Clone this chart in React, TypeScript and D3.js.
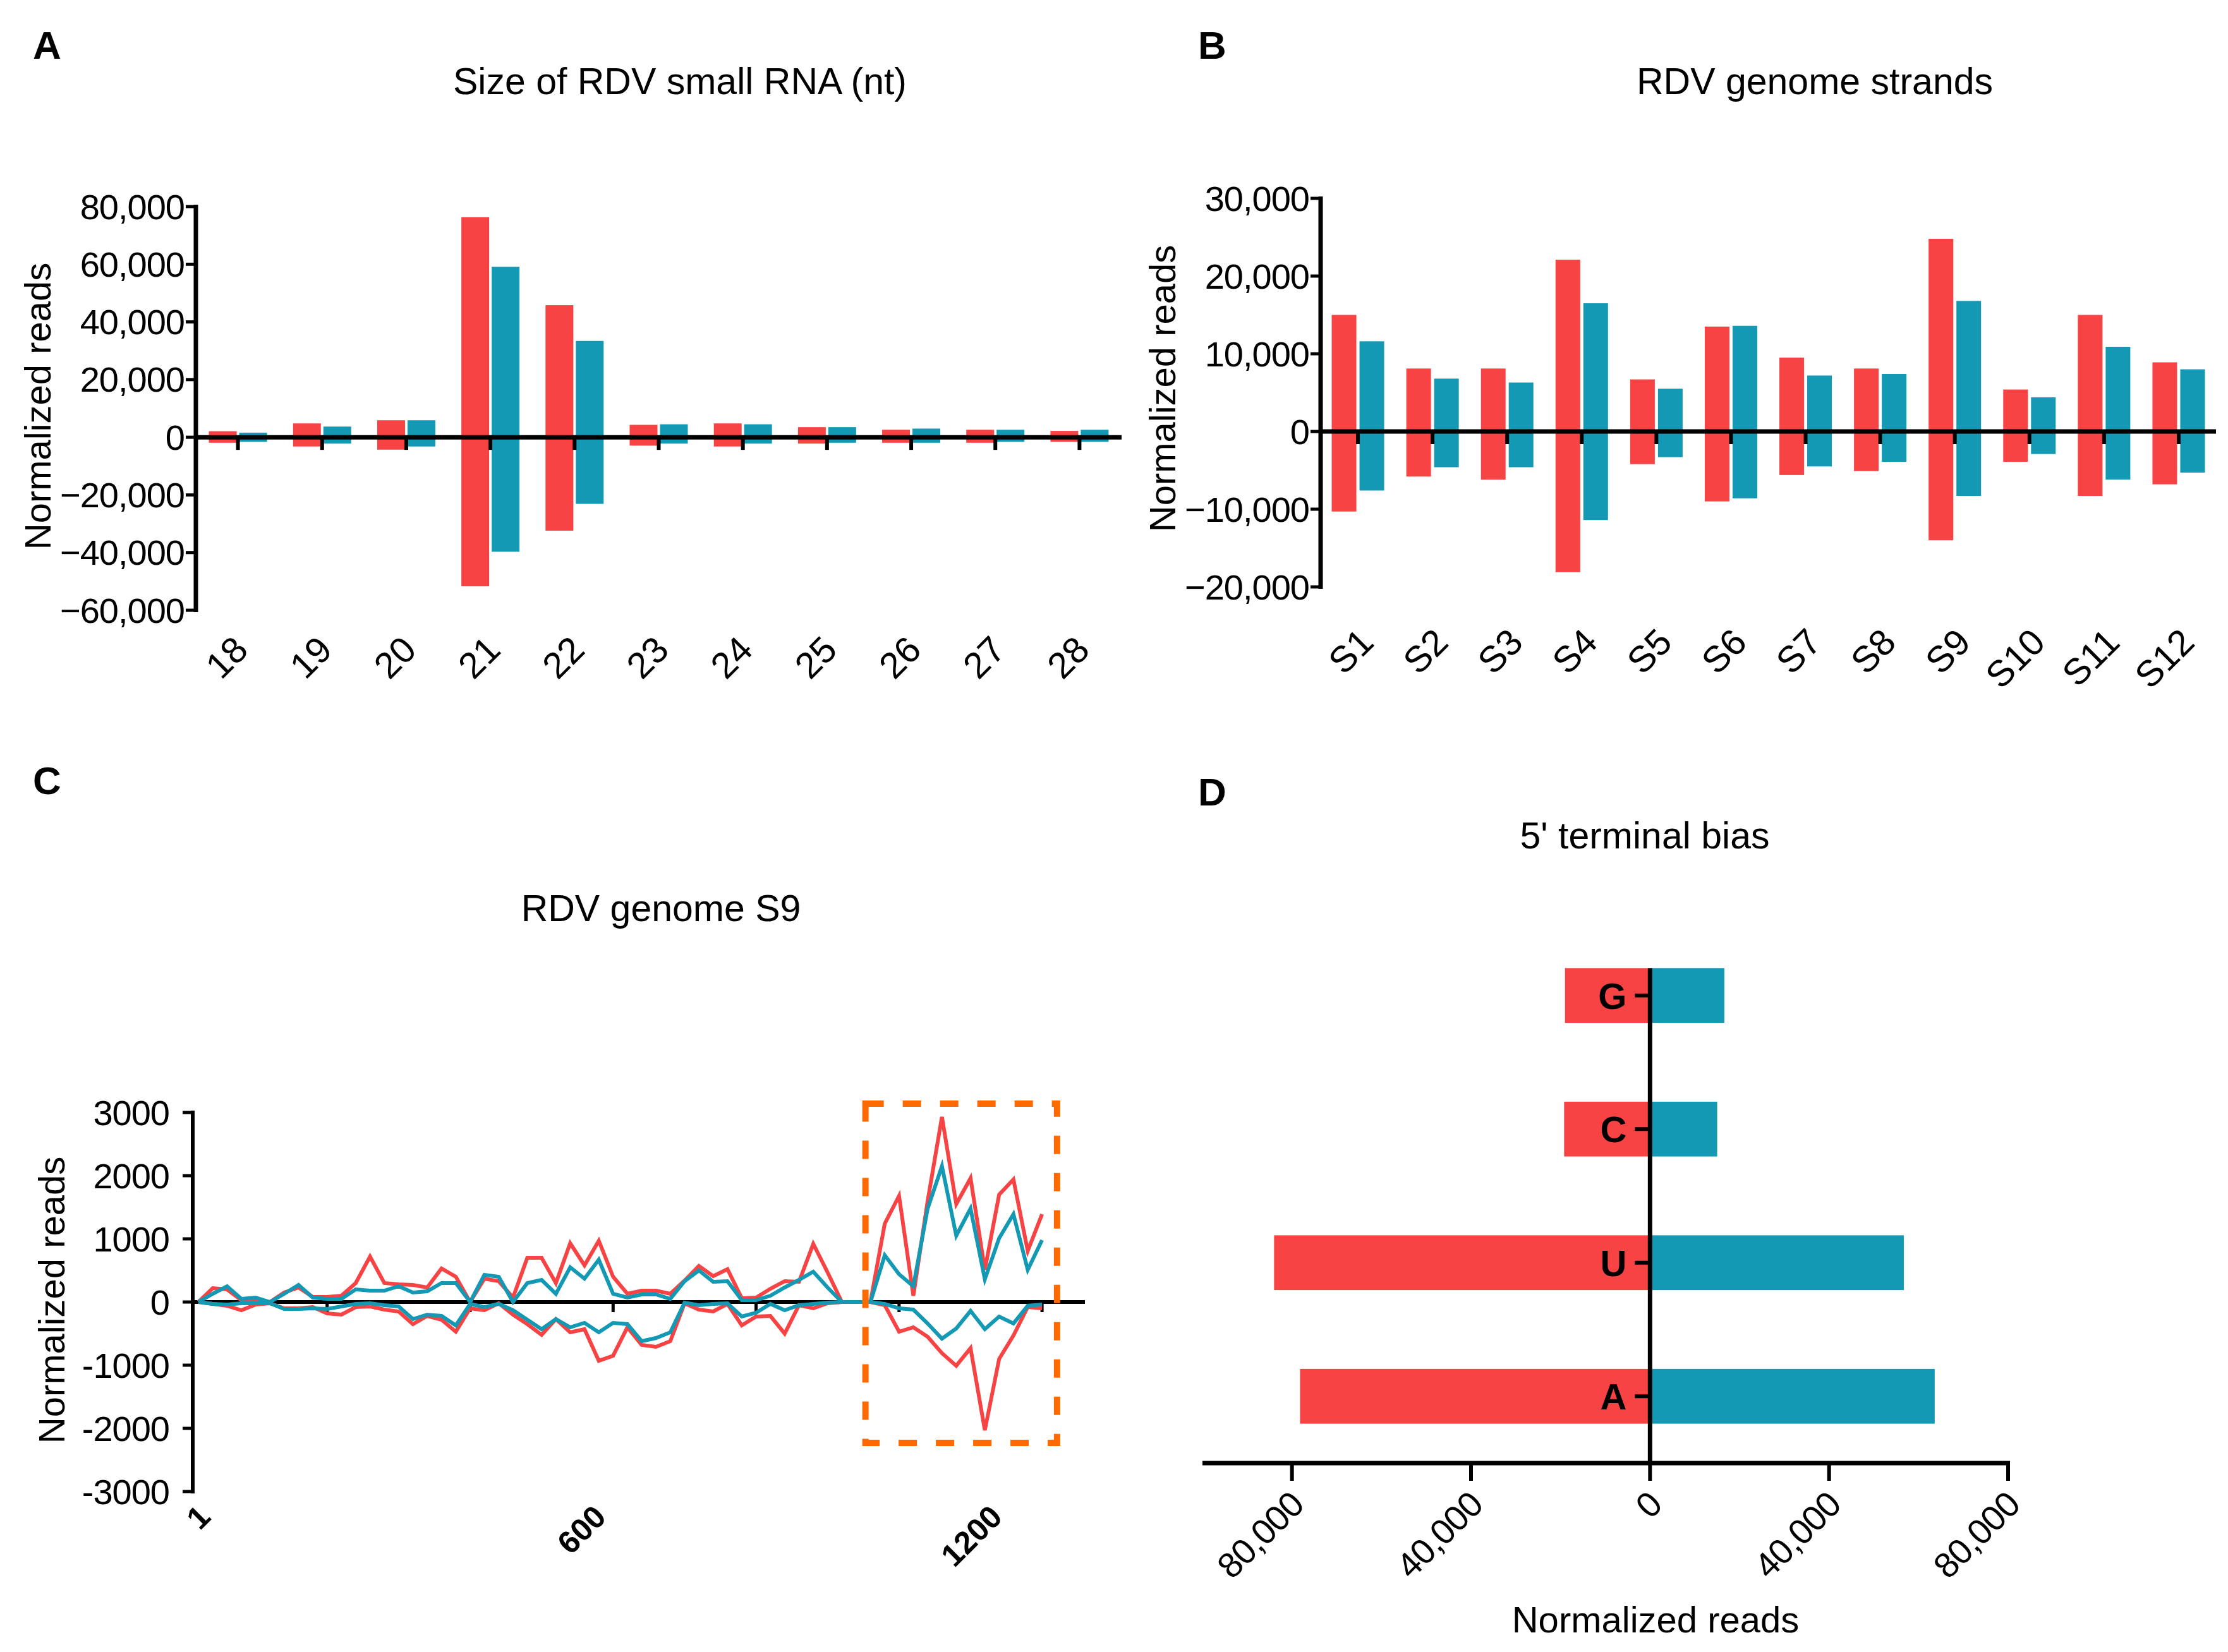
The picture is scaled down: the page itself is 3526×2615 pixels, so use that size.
import * as React from "react";
import * as d3 from "d3";

const RED = "#f74343";
const TEAL = "#1399b4";
const ORANGE = "#ff6a00";
const FONT = "'Liberation Sans', Arial, sans-serif";

// A - size of RDV small RNA (nt)
const sizeCategories = ["18", "19", "20", "21", "22", "23", "24", "25", "26", "27", "28"];
const sizeRedUp = [2100, 4800, 5900, 76300, 45800, 4300, 4800, 3500, 2600, 2600, 2200];
const sizeTealUp = [1600, 3700, 5900, 59100, 33400, 4500, 4500, 3500, 3000, 2600, 2600];
const sizeRedDown = [-1900, -3200, -4300, -51700, -32400, -2900, -3200, -2200, -1900, -1900, -1600];
const sizeTealDown = [-1600, -2200, -3200, -39700, -23100, -2200, -2200, -1900, -1900, -1600, -1600];
const sizeTicks = [-60000, -40000, -20000, 0, 20000, 40000, 60000, 80000];

// B - RDV genome strands
const strandCategories = ["S1", "S2", "S3", "S4", "S5", "S6", "S7", "S8", "S9", "S10", "S11", "S12"];
const strandRedUp = [15000, 8100, 8100, 22100, 6700, 13500, 9500, 8100, 24800, 5400, 15000, 8900];
const strandTealUp = [11600, 6800, 6300, 16500, 5500, 13600, 7200, 7400, 16800, 4400, 10900, 8000];
const strandRedDown = [-10300, -5800, -6200, -18100, -4200, -9000, -5600, -5100, -14000, -3900, -8300, -6800];
const strandTealDown = [-7600, -4600, -4600, -11400, -3300, -8600, -4500, -3900, -8300, -2900, -6200, -5300];
const strandTicks = [-20000, -10000, 0, 10000, 20000, 30000];

// C - RDV genome S9 (20 nt bins)
const s9Positions = [
  20, 40, 60, 80, 100, 120, 140, 160, 180, 200, 220, 240, 260, 280, 300, 320, 340, 360, 380, 400,
  420, 440, 460, 480, 500, 520, 540, 560, 580, 600, 620, 640, 660, 680, 700, 720, 740, 760, 780, 800,
  820, 840, 860, 880, 900, 920, 940, 960, 980, 1000, 1020, 1040, 1060, 1080, 1100, 1120, 1140, 1160, 1180, 1200,
];
const s9RedUp = [
  0, 220, 200, 30, 20, 0, 150, 230, 80, 80, 100, 300, 720, 300, 280, 270, 230, 530, 400, 0,
  370, 330, 70, 700, 700, 300, 930, 580, 970, 400, 130, 180, 180, 130, 340, 570, 410, 520, 60, 70,
  210, 330, 320, 920, 470, 0, 0, 0, 1240, 1680, 100, 1600, 2930, 1550, 1960, 510, 1700, 1940, 810, 1390,
];
const s9TealUp = [
  0, 130, 250, 50, 70, 0, 130, 270, 70, 50, 50, 200, 180, 180, 250, 150, 170, 300, 300, 0,
  430, 400, 0, 300, 350, 130, 550, 370, 670, 130, 70, 120, 120, 50, 330, 500, 320, 330, 30, 30,
  100, 230, 350, 480, 230, 0, 0, 0, 740, 440, 250, 1480, 2150, 1050, 1480, 360, 1010, 1390, 510, 980,
];
const s9RedDown = [
  0, -30, -60, -130, -40, -20, -100, -100, -80, -180, -200, -80, -70, -120, -150, -350, -220, -280, -470, -100,
  -130, -20, -200, -350, -520, -270, -480, -430, -930, -850, -400, -680, -710, -620, -20, -120, -150, -30, -370, -230,
  -220, -500, -50, -100, -20, 0, 0, 0, -50, -470, -400, -550, -810, -1010, -730, -2030, -900, -530, -80, -100,
];
const s9TealDown = [
  0, -30, -40, -20, -20, -20, -110, -110, -100, -110, -70, -30, -20, -50, -70, -270, -200, -220, -370, -30,
  -80, -30, -130, -280, -430, -270, -400, -330, -480, -330, -350, -620, -570, -480, -10, -50, -30, -20, -230, -170,
  -30, -130, -50, -30, -10, 0, 0, 0, -30, -100, -120, -340, -580, -420, -140, -430, -230, -340, -60, -40,
];
const s9Ticks = [-3000, -2000, -1000, 0, 1000, 2000, 3000];
const s9MinorTicks = [200, 400, 600, 800, 1000, 1200];
const s9Labels = [1, 600, 1200];
const s9BoxX = [953, 1221];
const s9BoxY = [-2230, 3140];

// D - 5' terminal bias
const baseCategories = ["G", "C", "U", "A"];
const baseRed = [19000, 19200, 84000, 78200];
const baseTeal = [16600, 15000, 56700, 63600];
const baseTicks = [-80000, -40000, 0, 40000, 80000];

const fmt = d3.format(",");

function MirrorBars({ categories, redUp, tealUp, redDown, tealDown, ticks, xRange, yRange, barW, gap, labelDx, labelY }) {
  const x = d3.scaleBand().domain(categories).range(xRange);
  const y = d3.scaleLinear().domain([ticks[0], ticks[ticks.length - 1]]).range(yRange);
  const cx = (d) => x(d) + x.bandwidth() / 2;
  const x0 = xRange[0];
  const bar = (d, v, side, color, key) => {
    const left = side < 0 ? cx(d) - gap - barW : cx(d) + gap;
    return <rect key={key} x={left} width={barW} y={Math.min(y(v), y(0))} height={Math.abs(y(v) - y(0))} fill={color} />;
  };
  return (
    <g>
      {categories.map((d, i) => (
        <g key={d}>
          {bar(d, redUp[i], -1, RED, "ru")}
          {bar(d, redDown[i], -1, RED, "rd")}
          {bar(d, tealUp[i], 1, TEAL, "tu")}
          {bar(d, tealDown[i], 1, TEAL, "td")}
        </g>
      ))}
      <line x1={x0} x2={xRange[1]} y1={y(0)} y2={y(0)} stroke="#000" strokeWidth={7} />
      {categories.map((d) => (
        <line key={d} x1={cx(d)} x2={cx(d)} y1={y(0)} y2={y(0) + 20} stroke="#000" strokeWidth={6} />
      ))}
      <line x1={x0} x2={x0} y1={yRange[1] - 3} y2={yRange[0] + 3} stroke="#000" strokeWidth={7} />
      {ticks.map((t) => (
        <g key={t}>
          <line x1={x0 - 16} x2={x0} y1={y(t)} y2={y(t)} stroke="#000" strokeWidth={5} />
          <text x={x0 - 18} y={y(t)} dy="0.35em" textAnchor="end" fontSize={56} letterSpacing={-1}>
            {fmt(t)}
          </text>
        </g>
      ))}
      {categories.map((d) => (
        <text key={d} transform={`translate(${cx(d) + labelDx},${labelY}) rotate(-45)`} textAnchor="end" fontSize={58}>
          {d}
        </text>
      ))}
    </g>
  );
}

function PanelC() {
  const x = d3.scaleLinear().domain([12, 1260]).range([305, 1717]);
  const y = d3.scaleLinear().domain([-3000, 3000]).range([2361, 1761]);
  const labelX = d3.scaleLinear().domain([1, 1200]).range([336, 1589]);
  const line = d3
    .line<number>()
    .x((_, i) => x(s9Positions[i]))
    .y((v) => y(v));
  const series = [
    [s9RedUp, RED],
    [s9RedDown, RED],
    [s9TealUp, TEAL],
    [s9TealDown, TEAL],
  ];
  return (
    <g>
      <line x1={305} x2={1717} y1={y(0)} y2={y(0)} stroke="#000" strokeWidth={6} />
      {s9MinorTicks.map((t) => (
        <line key={t} x1={x(t)} x2={x(t)} y1={y(0)} y2={y(0) + 16} stroke="#000" strokeWidth={5} />
      ))}
      {series.map(([vals, color], k) => (
        <path key={k} d={line(vals as number[])} fill="none" stroke={color as string} strokeWidth={6} strokeLinejoin="miter" />
      ))}
      <line x1={305} x2={305} y1={y(3000) - 3} y2={y(-3000) + 3} stroke="#000" strokeWidth={6} />
      {s9Ticks.map((t) => (
        <g key={t}>
          <line x1={289} x2={305} y1={y(t)} y2={y(t)} stroke="#000" strokeWidth={5} />
          <text x={268} y={y(t)} dy="0.35em" textAnchor="end" fontSize={56} letterSpacing={-1}>
            {t}
          </text>
        </g>
      ))}
      {s9Labels.map((t) => (
        <text key={t} transform={`translate(${labelX(t)},2404) rotate(-45)`} textAnchor="end" fontSize={50} fontWeight="bold">
          {t}
        </text>
      ))}
      <rect
        x={x(s9BoxX[0])}
        y={y(s9BoxY[1])}
        width={x(s9BoxX[1]) - x(s9BoxX[0])}
        height={y(s9BoxY[0]) - y(s9BoxY[1])}
        fill="none"
        stroke={ORANGE}
        strokeWidth={10}
        strokeDasharray="29 30"
      />
    </g>
  );
}

function PanelD() {
  const x = d3.scaleLinear().domain([-100000, 80000]).range([1903, 3178]);
  const y = d3.scalePoint().domain(baseCategories).range([1470, 2316]).padding(0.5);
  const h = y.step() * 0.41;
  const axisY = 2316;
  return (
    <g>
      {baseCategories.map((d, i) => (
        <g key={d}>
          <rect x={x(-baseRed[i])} width={x(0) - x(-baseRed[i])} y={y(d) - h / 2} height={h} fill={RED} />
          <rect x={x(0)} width={x(baseTeal[i]) - x(0)} y={y(d) - h / 2} height={h} fill={TEAL} />
          <line x1={x(0) - 24} x2={x(0)} y1={y(d)} y2={y(d)} stroke="#000" strokeWidth={6} />
          <text x={x(0) - 37} y={y(d)} dy="0.36em" textAnchor="end" fontSize={58} fontWeight="bold">
            {d}
          </text>
        </g>
      ))}
      <line x1={x(0)} x2={x(0)} y1={y("G") - h / 2} y2={axisY} stroke="#000" strokeWidth={7} />
      <line x1={1903} x2={3181} y1={axisY} y2={axisY} stroke="#000" strokeWidth={7} />
      {baseTicks.map((t) => (
        <g key={t}>
          <line x1={x(t)} x2={x(t)} y1={axisY} y2={axisY + 28} stroke="#000" strokeWidth={6} />
          <text transform={`translate(${x(t) + 22},2385) rotate(-45)`} textAnchor="end" fontSize={56} letterSpacing={-1}>
            {fmt(Math.abs(t))}
          </text>
        </g>
      ))}
      <text x={2620} y={2584} textAnchor="middle" fontSize={58}>
        Normalized reads
      </text>
    </g>
  );
}

const YTitle = ({ x, y }) => (
  <text transform={`translate(${x},${y}) rotate(-90)`} textAnchor="middle" fontSize={58}>
    Normalized reads
  </text>
);

export default function App() {
  return (
    <svg width={3526} height={2615} style={{ position: "absolute", left: 0, top: 0 }} fontFamily={FONT}>
      <rect width={3526} height={2615} fill="#fff" />
      <g fontWeight="bold" fontSize={62}>
        <text x={52} y={93}>A</text>
        <text x={1896} y={93}>B</text>
        <text x={52} y={1257}>C</text>
        <text x={1896} y={1275}>D</text>
      </g>
      <g fontSize={59} textAnchor="middle">
        <text x={1076} y={149}>Size of RDV small RNA (nt)</text>
        <text x={2872} y={149}>RDV genome strands</text>
        <text x={1046} y={1458}>RDV genome S9</text>
        <text x={2603} y={1343}>5' terminal bias</text>
      </g>
      <MirrorBars
        categories={sizeCategories}
        redUp={sizeRedUp}
        tealUp={sizeTealUp}
        redDown={sizeRedDown}
        tealDown={sizeTealDown}
        ticks={sizeTicks}
        xRange={[310, 1775]}
        yRange={[966, 327]}
        barW={44}
        gap={2}
        labelDx={19}
        labelY={1032}
      />
      <MirrorBars
        categories={strandCategories}
        redUp={strandRedUp}
        tealUp={strandTealUp}
        redDown={strandRedDown}
        tealDown={strandTealDown}
        ticks={strandTicks}
        xRange={[2090, 3507]}
        yRange={[929, 314]}
        barW={39}
        gap={2.5}
        labelDx={28}
        labelY={1020}
      />
      <YTitle x={80} y={643} />
      <YTitle x={1860} y={615} />
      <YTitle x={102} y={2058} />
      <PanelC />
      <PanelD />
    </svg>
  );
}
